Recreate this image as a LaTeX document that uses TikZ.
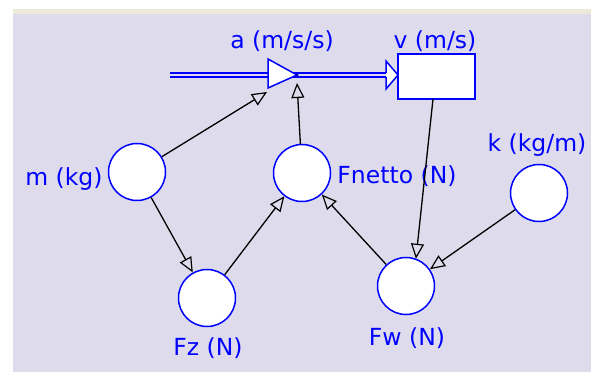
\documentclass[tikz,border=0pt]{standalone}
\usepackage{fontspec}
\setmainfont{DejaVu Sans}
\usetikzlibrary{arrows.meta,calc}
\definecolor{bgpanel}{HTML}{DEDCEC}
\definecolor{bgband}{HTML}{ECE9D8}
\definecolor{vblue}{HTML}{0000FF}
\tikzset{
  varnode/.style={circle, draw=vblue, line width=1.5pt, fill=white, minimum size=57pt, inner sep=0pt},
  lbl/.style={text=vblue, font=\fontsize{23.5}{27}\selectfont, inner sep=0pt},
  link/.style={draw=black, line width=1.3pt, -{Triangle[open, length=15pt, width=13pt, line width=1.2pt]}},
  flowline/.style={draw=vblue, line width=1.8pt}
}
\begin{document}
\begin{tikzpicture}[x=1pt,y=1pt]
\useasboundingbox (0,0) rectangle (591,372);
\fill[white] (0,0) rectangle (591,372);
\fill[bgpanel] (13,0) rectangle (591,358);
\fill[bgband] (13,358) rectangle (591,363);

% flow
\draw[flowline] (170,299) -- (386,299);
\draw[flowline] (170,295) -- (386,295);
\node[draw=vblue, line width=1.5pt, fill=white, minimum width=77pt, minimum height=45pt, inner sep=0pt] (v) at (436.5,295.5) {};
\fill[white] (386,311) -- (398,297) -- (386,283) -- cycle;
\draw[vblue, line width=1.5pt, line join=miter] (386,299) -- (386,311) -- (398,297) -- (386,283) -- (386,295);
\node[inner sep=0pt, minimum size=0pt] (a) at (280,297) {};
\filldraw[fill=white, draw=vblue, line width=1.5pt, line join=miter] (268,313) -- (297,297) -- (268,284) -- cycle;
\fill[vblue!70!black] (297,297) circle (1.6);
\coordinate (aT1) at (267,280);
\coordinate (aT2) at (297,289);
\coordinate (vS) at (433,273);

% variables
\node[varnode] (m) at (137,200) {};
\node[varnode] (fz) at (207,74) {};
\node[varnode] (fn) at (302,199) {};
\node[varnode] (fw) at (406,86) {};
\node[varnode] (k) at (539,179) {};

% labels
\node[lbl] (la) at (282,331) {a (m/s/s)};
\node[lbl] (lv) at (435,331) {v (m/s)};
\node[lbl] (lm) at (64,193) {m (kg)};
\node[lbl] (lfz) at (208,24) {Fz (N)};
\node[lbl] (lfn) at (397,196) {Fnetto (N)};
\node[lbl] (lk) at (537,227) {k (kg/m)};
\node[lbl] (lfw) at (407,34) {Fw (N)};

% connectors
\draw[link] (m) -- (aT1);
\draw[link] (fn) -- (aT2);
\draw[link] (m) -- (fz);
\draw[link] (fz) -- (fn);
\draw[link] (fw) -- (fn);
\draw[link] (vS) -- ($(fw.center)+(70:29)$);
\draw[link] (k) -- (fw);
\end{tikzpicture}
\end{document}
